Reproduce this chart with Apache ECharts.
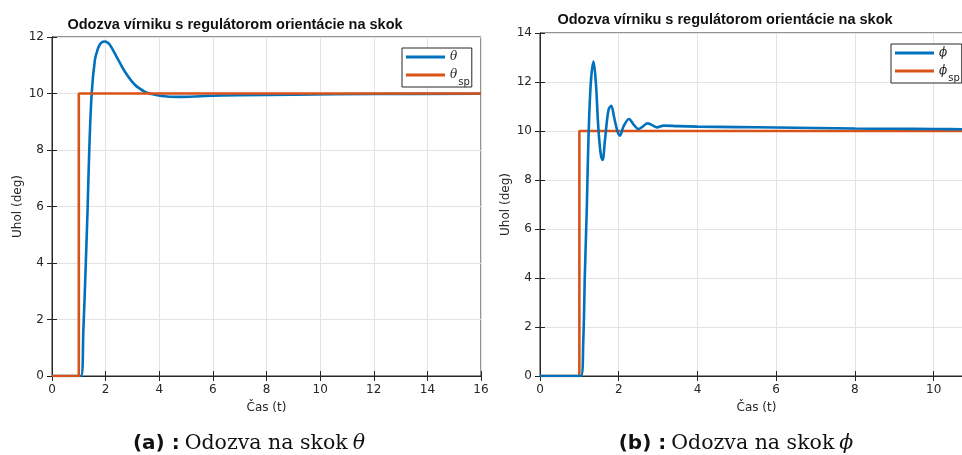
<!DOCTYPE html>
<html>
<head>
<meta charset="utf-8">
<script src="https://cdn.jsdelivr.net/npm/echarts@6/dist/echarts.min.js"></script>
<style>
  html, body { margin: 0; padding: 0; background: #fff; }
  #chart { width: 962px; height: 455px; }
</style>
</head>
<body>
<div id="chart"></div>
<script>
  // odozva na skok theta (lavy graf)
  const thetaT = [0, 1.08, 1.17, 1.26, 1.33, 1.39, 1.48, 1.60, 1.70, 1.79, 1.90, 1.98, 2.07, 2.16, 2.41, 2.72, 3.1, 3.47, 3.72, 4.09, 4.7, 5.7, 7, 9, 12, 16];
  const thetaV = [0, 0, 1.63, 3.99, 6.0, 8.0, 10.0, 11.19, 11.55, 11.74, 11.83, 11.84, 11.8, 11.72, 11.3, 10.77, 10.3, 10.06, 9.98, 9.91, 9.88, 9.91, 9.94, 9.96, 9.98, 9.99];
  const thetaSpT = [0, 1, 1, 16];
  const thetaSpV = [0, 0, 10, 10];

  // odozva na skok phi (pravy graf)
  const phiT = [0, 1.04, 1.10, 1.14, 1.19, 1.23, 1.29, 1.36, 1.42, 1.48, 1.54, 1.59, 1.65, 1.74, 1.81, 1.88, 1.97, 2.03, 2.12, 2.26, 2.39, 2.50, 2.61, 2.73, 2.87, 2.97, 3.14, 3.5, 4, 5, 6, 7, 8, 9, 10, 11];
  const phiV = [0, 0, 1.47, 4.19, 6.91, 9.63, 11.95, 12.83, 11.95, 10.18, 9.09, 8.82, 9.63, 10.86, 11.03, 10.58, 9.97, 9.81, 10.18, 10.49, 10.24, 10.08, 10.18, 10.31, 10.22, 10.15, 10.22, 10.2, 10.18, 10.16, 10.14, 10.12, 10.1, 10.09, 10.08, 10.07];
  const phiSpT = [0, 1, 1, 11];
  const phiSpV = [0, 0, 10, 10];

  const xTicksLeft = {min: 0, max: 16, interval: 2};
  const xTicksRight = {min: 0, max: 11, interval: 2};
  const yTicksLeft = {min: 0, max: 12, interval: 2};
  const yTicksRight = {min: 0, max: 14, interval: 2};

  const dark = '#262626';
  const blue = '#0072BD';
  const orange = '#D95319';

  function pairs(t, v) {
    return t.map(function (x, i) { return [x, v[i]]; });
  }

  function mainX(grid, ticks) {
    return {
      type: 'value', gridIndex: grid, min: ticks.min, max: ticks.max, interval: ticks.interval,
      name: 'Čas (t)', nameLocation: 'middle', nameGap: 26,
      nameTextStyle: {color: dark, fontSize: 12, fontFamily: 'DejaVu Sans'},
      axisLine: {show: true, lineStyle: {color: dark, width: 1}},
      axisTick: {show: true, inside: true, length: 5, lineStyle: {color: dark}},
      axisLabel: {color: dark, fontSize: 12, fontFamily: 'DejaVu Sans', margin: 8, showMaxLabel: ticks.max % ticks.interval === 0},
      splitLine: {show: true, lineStyle: {color: '#e3e3e3', width: 1}}
    };
  }
  function mainY(grid, ticks) {
    return {
      type: 'value', gridIndex: grid, min: ticks.min, max: ticks.max, interval: ticks.interval,
      name: 'Uhol (deg)', nameLocation: 'middle', nameGap: 28,
      nameTextStyle: {color: dark, fontSize: 12, fontFamily: 'DejaVu Sans'},
      axisLine: {show: true, lineStyle: {color: dark, width: 1}},
      axisTick: {show: true, inside: true, length: 5, lineStyle: {color: dark}},
      axisLabel: {color: dark, fontSize: 12, fontFamily: 'DejaVu Sans', margin: 8},
      splitLine: {show: true, lineStyle: {color: '#e3e3e3', width: 1}}
    };
  }
  // horne a prave osi len s ciarkami (box on)
  function boxAxis(grid, ticks, pos) {
    return {
      type: 'value', gridIndex: grid, position: pos, min: ticks.min, max: ticks.max, interval: ticks.interval,
      axisLine: {show: true, lineStyle: {color: dark, width: 1}},
      axisTick: {show: true, inside: true, length: 5, lineStyle: {color: dark}},
      axisLabel: {show: false},
      splitLine: {show: false}
    };
  }

  const richLegend = {
    i: {fontFamily: 'DejaVu Serif', fontStyle: 'italic', fontSize: 12, color: dark, lineHeight: 12},
    s: {fontFamily: 'DejaVu Sans', fontSize: 10, color: dark, lineHeight: 10, padding: [14, 0, 0, 1]}
  };
  function legendOf(names, left, top) {
    return {
      data: names, orient: 'vertical', left: left, top: top,
      icon: 'rect', itemWidth: 39, itemHeight: 3, itemGap: 0,
      padding: [3, 2, 0, 4],
      backgroundColor: '#fff', borderColor: dark, borderWidth: 1, borderRadius: 0,
      formatter: function (n) {
        return n.length > 1 ? '{i|' + n.charAt(0) + '}{s|sp}' : '{i|' + n + '}';
      },
      textStyle: {rich: richLegend}
    };
  }

  const titleStyle = {color: '#111', fontSize: 14.5, fontWeight: 'bold', fontFamily: 'Liberation Sans'};
  const capRich = {
    b: {fontFamily: 'DejaVu Sans', fontWeight: 'bold', fontSize: 20, color: '#111'},
    r: {fontFamily: 'DejaVu Serif', fontWeight: 'normal', fontSize: 20.5, color: '#111'},
    i: {fontFamily: 'DejaVu Serif', fontWeight: 'normal', fontStyle: 'italic', fontSize: 20.5, color: '#111'}
  };

  const option = {
    animation: false,
    title: [
      {text: 'Odozva vírniku s regulátorom orientácie na skok', left: 235, top: 17, textAlign: 'center', textStyle: titleStyle, padding: 0},
      {text: 'Odozva vírniku s regulátorom orientácie na skok', left: 725, top: 12, textAlign: 'center', textStyle: titleStyle, padding: 0},
      {text: '{b|(a) :} {r|Odozva na skok} {i|θ}', left: 249, top: 433, textAlign: 'center', textStyle: {fontWeight: 'normal', rich: capRich}, padding: 0},
      {text: '{b|(b) :} {r|Odozva na skok} {i|ϕ}', left: 736, top: 433, textAlign: 'center', textStyle: {fontWeight: 'normal', rich: capRich}, padding: 0}
    ],
    legend: [
      legendOf(['θ', 'θsp'], 402, 48),
      legendOf(['ϕ', 'ϕsp'], 891, 44)
    ],
    grid: [
      {left: 52, right: 962 - 481, top: 37, bottom: 455 - 376, show: true, borderColor: dark, borderWidth: 1, outerBoundsMode: 'none'},
      {left: 540, right: 962 - 973, top: 33, bottom: 455 - 376, show: true, borderColor: dark, borderWidth: 1, outerBoundsMode: 'none'}
    ],
    xAxis: [
      mainX(0, xTicksLeft),
      mainX(1, xTicksRight),
      boxAxis(0, xTicksLeft, 'top'),
      boxAxis(1, xTicksRight, 'top')
    ],
    yAxis: [
      mainY(0, yTicksLeft),
      mainY(1, yTicksRight),
      boxAxis(0, yTicksLeft, 'right'),
      boxAxis(1, yTicksRight, 'right')
    ],
    series: [
      {name: 'θ', type: 'line', xAxisIndex: 0, yAxisIndex: 0, data: pairs(thetaT, thetaV),
        showSymbol: false, smooth: 0.35, color: blue, lineStyle: {width: 2.6, color: blue}},
      {name: 'θsp', type: 'line', xAxisIndex: 0, yAxisIndex: 0, data: pairs(thetaSpT, thetaSpV),
        showSymbol: false, color: orange, lineStyle: {width: 2.6, color: orange}},
      {name: 'ϕsp', type: 'line', xAxisIndex: 1, yAxisIndex: 1, data: pairs(phiSpT, phiSpV),
        showSymbol: false, color: orange, lineStyle: {width: 2.6, color: orange}},
      {name: 'ϕ', type: 'line', xAxisIndex: 1, yAxisIndex: 1, data: pairs(phiT, phiV),
        showSymbol: false, smooth: 0.35, color: blue, lineStyle: {width: 2.6, color: blue}}
    ]
  };

  const mychart = echarts.init(document.getElementById('chart'));
  mychart.setOption(option);
</script>
</body>
</html>
